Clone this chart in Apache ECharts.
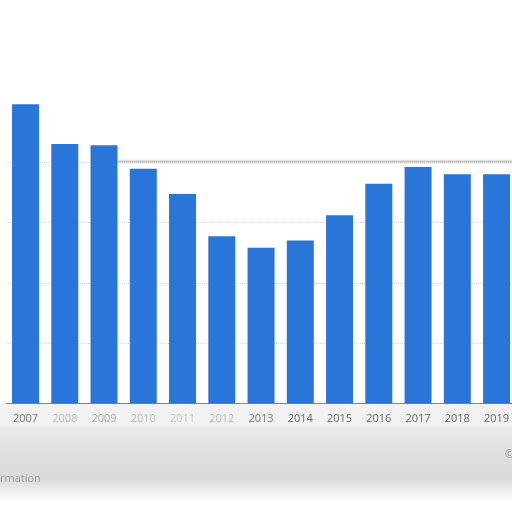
<!DOCTYPE html>
<html>
<head>
<meta charset="utf-8">
<script src="https://cdn.jsdelivr.net/npm/echarts@6/dist/echarts.min.js"></script>
<style>html,body{margin:0;padding:0;background:#fff;overflow:hidden}#c{width:520px;height:512px}</style>
</head>
<body>
<div id="c"></div>
<script>
var years = ['2007','2008','2009','2010','2011','2012','2013','2014','2015','2016','2017','2018','2019'];
var values = [49.6, 43.0, 42.8, 38.9, 34.7, 27.7, 25.8, 27.0, 31.2, 36.4, 39.2, 38.0, 38.0];
var yTicks = [0, 10, 20, 30, 40, 50];
var labelColors = ['#777','#bbb','#aaa','#bbb','#c8c8c8','#bbb','#777','#666','#666','#666','#666','#666','#666'];

var chart = echarts.init(document.getElementById('c'), null, {renderer: 'canvas'});
chart.setOption({
  animation: false,
  backgroundColor: '#ffffff',
  graphic: [
    {type: 'rect', z: -10, shape: {x: 0, y: 404, width: 520, height: 24}, style: {fill: '#f2f2f2'}},
    {type: 'rect', z: -10, shape: {x: 0, y: 426, width: 520, height: 76},
      style: {fill: new echarts.graphic.LinearGradient(0, 0, 0, 1, [
        {offset: 0, color: '#ececec'},
        {offset: 0.3, color: '#e0e0e0'},
        {offset: 0.7, color: '#dadada'},
        {offset: 1, color: '#ffffff'}
      ])}},
    {type: 'line', z: 5, shape: {x1: 118, y1: 161.5, x2: 520, y2: 161.5},
      style: {stroke: '#c4c4c4', lineWidth: 1.5, shadowBlur: 3, shadowColor: 'rgba(0,0,0,0.25)'}},
    {type: 'text', z: 5, x: 0, y: 473, style: {text: 'rmation', fill: '#a0a0a0', font: '11px "Open Sans"'}},
    {type: 'text', z: 5, x: 505, y: 449, style: {text: '©', fill: '#999', font: '11px "Open Sans"'}}
  ],
  grid: {left: 5.9, right: 3.8, top: 101.8, bottom: 108.5, containLabel: false},
  xAxis: {
    type: 'category',
    data: years,
    axisLine: {show: true, lineStyle: {color: '#888', width: 1}},
    axisTick: {show: false},
    axisLabel: {
      margin: 10,
      fontSize: 11,
      fontFamily: 'Open Sans',
      color: function (v, i) { return labelColors[i]; }
    }
  },
  yAxis: {
    type: 'value',
    min: yTicks[0],
    max: yTicks[yTicks.length - 1],
    interval: 10,
    axisLine: {show: false},
    axisTick: {show: false},
    axisLabel: {show: false},
    splitLine: {show: true, lineStyle: {type: 'dotted', color: ['#d6d6d6','#d6d6d6','#d6d6d6','#d6d6d6','#d6d6d6','rgba(0,0,0,0)'], width: 1}}
  },
  series: [{
    type: 'bar',
    data: values,
    barWidth: 27,
    itemStyle: {color: '#2a76d8'}
  }]
});
</script>
</body>
</html>
